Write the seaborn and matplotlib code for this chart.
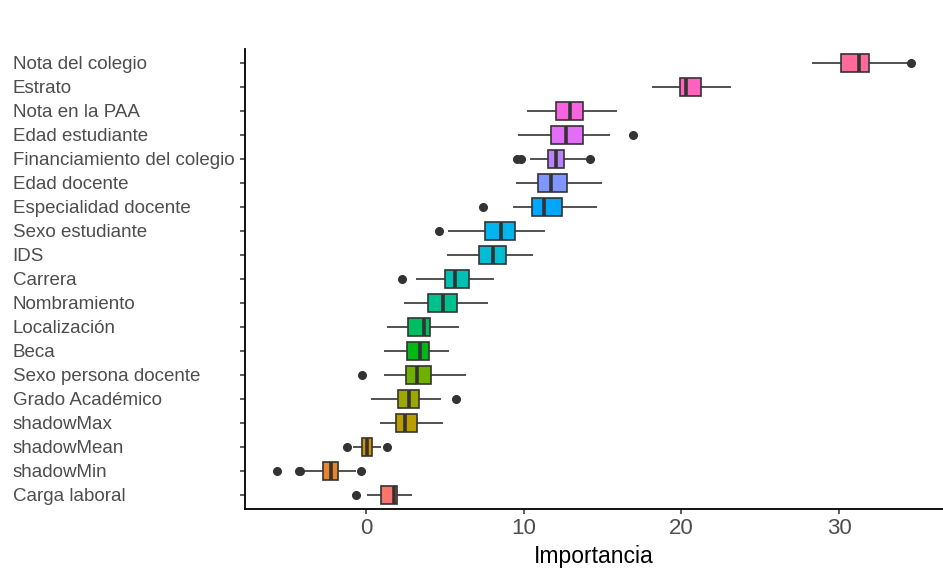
import numpy as np
import pandas as pd
import matplotlib
matplotlib.use("Agg")
import matplotlib.pyplot as plt
import seaborn as sns

# ---- data ----
features = ["Nota del colegio", "Estrato", "Nota en la PAA", "Edad estudiante",
            "Financiamiento del colegio", "Edad docente", "Especialidad docente",
            "Sexo estudiante", "IDS", "Carrera", "Nombramiento", "Localización",
            "Beca", "Sexo persona docente", "Grado Académico", "shadowMax",
            "shadowMean", "shadowMin", "Carga laboral"]
whisk_lo = [28.29, 18.16, 10.19, 9.60, 10.38, 9.52, 9.33, 5.21, 5.15, 3.15,
            2.39, 1.29, 1.16, 1.10, 0.28, 0.87, -0.85, -3.90, 0.02]
q1 = [30.15, 19.90, 12.07, 11.73, 11.54, 10.93, 10.49, 7.51, 7.13, 4.98,
      3.91, 2.66, 2.56, 2.53, 2.01, 1.88, -0.25, -2.75, 0.95]
median = [31.25, 20.32, 12.94, 12.68, 12.07, 11.71, 11.25, 8.54, 8.04, 5.61,
          4.85, 3.65, 3.44, 3.23, 2.70, 2.47, 0.06, -2.25, 1.75]
q3 = [31.90, 21.27, 13.78, 13.74, 12.58, 12.74, 12.41, 9.41, 8.84, 6.54,
      5.76, 4.03, 3.99, 4.10, 3.36, 3.23, 0.37, -1.80, 1.94]
whisk_hi = [34.30, 23.16, 15.91, 15.44, 13.95, 14.96, 14.65, 11.37, 10.61, 8.12,
            7.72, 5.87, 5.25, 6.31, 4.77, 4.90, 0.95, -0.65, 2.93]
outliers_lo = [[], [], [], [], [9.56, 9.83], [], [7.41], [4.60], [], [2.30],
               [], [], [], [-0.25], [], [], [-1.25], [-5.67, -4.25, -4.20], [-0.63]]
outliers_hi = [[34.60], [], [], [16.90], [14.18], [], [], [], [], [],
               [], [], [], [], [5.68], [], [1.33], [-0.35], []]


def sample_for(i):
    """21 importance values whose quartiles / whiskers / fliers match the read stats."""
    lo = list(outliers_lo[i])
    hi = list(outliers_hi[i])
    vals = lo + [whisk_lo[i]] * (5 - len(lo))          # idx 0..4
    vals += [q1[i]]                                    # idx 5  -> Q1
    vals += [median[i]] * 9                            # idx 6..14 (10 -> median)
    vals += [q3[i]]                                    # idx 15 -> Q3
    vals += [whisk_hi[i]] * (5 - len(hi)) + hi         # idx 16..20
    return vals


rows = []
for i, f in enumerate(features):
    for v in sample_for(i):
        rows.append({"feature": f, "Importancia": v})
df = pd.DataFrame(rows)


# ggplot2-like hue palette (hcl, c=100, l=65)
def hcl_hex(h, c=100.0, l=65.0):
    hr = np.deg2rad(h)
    u, v = c * np.cos(hr), c * np.sin(hr)
    un, vn = 0.1978398, 0.4683363
    Y = 100.0 * ((l + 16) / 116) ** 3
    up = u / (13 * l) + un
    vp = v / (13 * l) + vn
    X = Y * 9 * up / (4 * vp)
    Z = Y * (12 - 3 * up - 20 * vp) / (4 * vp)
    xyz = np.array([X, Y, Z]) / 100.0
    M = np.array([[3.240479, -1.537150, -0.498535],
                  [-0.969256, 1.875992, 0.041556],
                  [0.055648, -0.204043, 1.057311]])
    rgb = M @ xyz
    rgb = np.where(rgb > 0.00304, 1.055 * np.power(np.clip(rgb, 1e-9, None), 1 / 2.4) - 0.055, 12.92 * rgb)
    rgb = np.clip(rgb, 0, 1)
    return matplotlib.colors.to_hex(rgb)


n = len(features)
hues = [15 + k * 360 / n for k in range(n)]
# bottom category gets the first hue
palette = {f: hcl_hex(hues[n - 1 - i]) for i, f in enumerate(features)}

# ---- plot ----
sns.set_theme(style="white")
plt.rcParams["font.family"] = ["Liberation Sans", "DejaVu Sans"]

fig = plt.figure(figsize=(9.43, 5.71), dpi=100)
ax = fig.add_axes([0.26, 0.108, 0.74, 0.807])

sns.boxplot(data=df, x="Importancia", y="feature", hue="feature", order=features,
            hue_order=features, palette=palette, legend=False, saturation=1,
            width=0.75, linecolor="#333333", linewidth=1.2, showcaps=False,
            medianprops=dict(linewidth=2.6, color="#333333"),
            flierprops=dict(marker="o", markersize=5.5, markerfacecolor="#333333",
                            markeredgecolor="#333333"),
            ax=ax)

ax.set_ylim(n - 1 + 0.6, -0.6)
ax.set_xlim(-7.68, 36.6)
ax.set_xticks([0, 10, 20, 30])
ax.set_ylabel("")
ax.set_xlabel("Importancia", fontsize=16.5, color="black", labelpad=4)

for s in ["top", "right"]:
    ax.spines[s].set_visible(False)
for s in ["left", "bottom"]:
    ax.spines[s].set_color("black")
    ax.spines[s].set_linewidth(1.3)

ax.tick_params(axis="y", labelsize=13.5, labelcolor="#4D4D4D", length=3.5, width=1.1,
               color="#333333", left=True, pad=164)
ax.tick_params(axis="x", labelsize=16, labelcolor="#4D4D4D", length=3.5, width=1.1,
               color="#333333", bottom=True, pad=3)
for lab in ax.get_yticklabels():
    lab.set_horizontalalignment("left")
ax.grid(False)

fig.savefig("out.png", dpi=100)
